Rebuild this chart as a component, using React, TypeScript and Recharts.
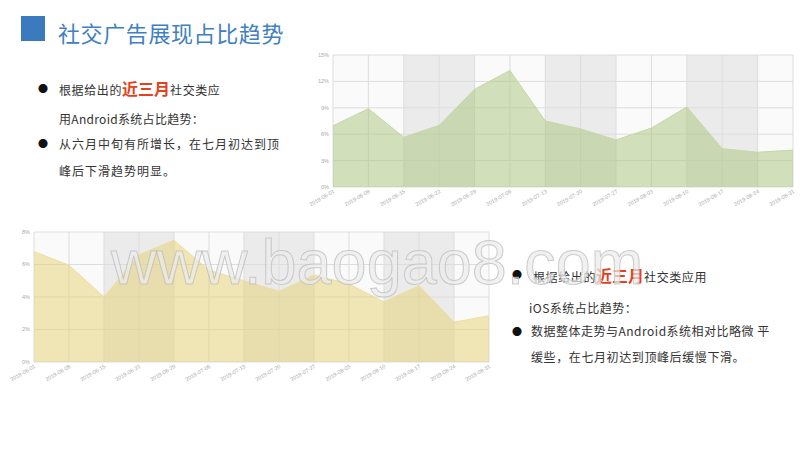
import { AreaChart, Area, XAxis, YAxis, CartesianGrid } from 'recharts';

// weekly share of social ads, in percent
const weeks = [
  '2019-06-01', '2019-06-08', '2019-06-15', '2019-06-22', '2019-06-29', '2019-07-06', '2019-07-13',
  '2019-07-20', '2019-07-27', '2019-08-03', '2019-08-10', '2019-08-17', '2019-08-24', '2019-08-31',
];
const androidShare = [6.95, 8.9, 5.65, 7.0, 11.1, 13.25, 7.5, 6.6, 5.35, 6.7, 9.1, 4.35, 3.95, 4.2];
const iosShare = [6.8, 5.95, 4.0, 6.6, 7.5, 5.65, 5.0, 4.35, 5.35, 4.8, 3.7, 4.7, 2.45, 2.85];
const androidTicks = [0, 3, 6, 9, 12, 15];
const iosTicks = [0, 2, 4, 6, 8];

const androidData = weeks.map((week, i) => ({ week, value: androidShare[i] }));
const iosData = weeks.map((week, i) => ({ week, value: iosShare[i] }));

const CJK = '"Noto Sans CJK SC", "Noto Sans", sans-serif';
const STRIPES = ['#fafafa', '#fafafa', '#ebebeb', '#ebebeb'];

const DateTick = (props: any) => {
  const { x, y, payload } = props;
  return (
    <text
      x={x}
      y={y}
      dy={4}
      transform={`rotate(-30, ${x}, ${y})`}
      textAnchor="end"
      fontSize={5.5}
      fill="#aaa"
      fontFamily="Liberation Sans, Arial, sans-serif"
    >
      {payload.value}
    </text>
  );
};

const pct = (v: number) => `${v}%`;

function ShareChart(props: {
  data: { week: string; value: number }[];
  ticks: number[];
  fill: string;
  stroke: string;
  margin: { top: number; right: number; bottom: number; left: number };
  yWidth: number;
}) {
  const { data, ticks, fill, stroke, margin, yWidth } = props;
  return (
    <AreaChart width={500} height={190} data={data} margin={margin}>
      <CartesianGrid stroke="#dddddd" verticalFill={STRIPES} />
      <XAxis
        dataKey="week"
        interval={0}
        axisLine={false}
        tickLine={false}
        tickSize={0}
        tickMargin={2}
        height={30}
        tick={<DateTick />}
      />
      <YAxis
        domain={[ticks[0], ticks[ticks.length - 1]]}
        ticks={ticks}
        width={yWidth}
        axisLine={false}
        tickLine={false}
        tickSize={0}
        tickMargin={4}
        tickFormatter={pct}
        tick={{ fontSize: 5.5, fill: '#aaa', fontFamily: 'Liberation Sans, Arial, sans-serif' }}
      />
      <Area
        type="linear"
        dataKey="value"
        fill={fill}
        fillOpacity={0.5}
        stroke={stroke}
        strokeWidth={1}
        dot={false}
        activeDot={false}
        isAnimationActive={false}
      />
    </AreaChart>
  );
}

const bullet = (left: number, top: number) => (
  <div style={{ position: 'absolute', left, top, fontSize: 10, lineHeight: '10px', color: '#111' }}>●</div>
);

const line = (left: number, top: number, text: React.ReactNode, spacing: number) => (
  <div
    style={{
      position: 'absolute',
      left,
      top,
      fontSize: 12,
      lineHeight: '16px',
      letterSpacing: spacing,
      whiteSpace: 'nowrap',
      color: '#333',
    }}
  >
    {text}
  </div>
);

const red = (
  <span style={{ color: '#e5401c', fontWeight: 'bold', fontSize: 16, letterSpacing: 0 }}>近三月</span>
);

export default function App() {
  return (
    <div
      style={{
        position: 'absolute',
        left: 0,
        top: 0,
        width: 800,
        height: 450,
        background: '#fff',
        fontFamily: CJK,
        overflow: 'hidden',
      }}
    >
      {/* title */}
      <div style={{ position: 'absolute', left: 21, top: 16, width: 24, height: 25, background: '#3a7abd' }} />
      <div
        style={{
          position: 'absolute',
          left: 58,
          top: 17,
          fontSize: 22,
          lineHeight: '30px',
          color: '#3f80c2',
          letterSpacing: 0.6,
          whiteSpace: 'nowrap',
        }}
      >
        社交广告展现占比趋势
      </div>

      {/* left text */}
      {bullet(38, 84)}
      {line(59, 80, <>根据给出的{red}社交类应</>, 0.6)}
      {line(59, 111, '用Android系统占比趋势：', 0.3)}
      {bullet(38, 139)}
      {line(59, 136, '从六月中旬有所增长，在七月初达到顶', 1)}
      {line(59, 163, '峰后下滑趋势明显。', 1)}

      {/* top chart: Android */}
      <div style={{ position: 'absolute', left: 300, top: 40 }}>
        <ShareChart
          data={androidData}
          ticks={androidTicks}
          fill="#a8c47a"
          stroke="#c6d8a6"
          margin={{ top: 15, right: 7, bottom: 13, left: 8 }}
          yWidth={25}
        />
      </div>

      {/* bottom chart: iOS */}
      <div style={{ position: 'absolute', left: 0, top: 220 }}>
        <ShareChart
          data={iosData}
          ticks={iosTicks}
          fill="#e6cf6e"
          stroke="#ecdfa2"
          margin={{ top: 12, right: 11, bottom: 18, left: 8 }}
          yWidth={26}
        />
      </div>

      {/* right text */}
      {bullet(512, 270)}
      {line(533, 267, <>根据给出的{red}社交类应用</>, 0.6)}
      {line(529, 300, 'iOS系统占比趋势：', 0.5)}
      {bullet(512, 327)}
      {line(531, 323, '数据整体走势与Android系统相对比略微  平', 0.5)}
      {line(531, 349, '缓些，在七月初达到顶峰后缓慢下滑。', 0.6)}

      {/* watermark */}
      <svg width={800} height={450} style={{ position: 'absolute', left: 0, top: 0, pointerEvents: 'none' }}>
        <text
          x={111}
          y={284}
          fontSize={63}
          fontFamily="Liberation Sans, Arial, sans-serif"
          fill="rgba(236,236,236,0.72)"
          stroke="rgba(185,185,185,0.7)"
          strokeWidth={1}
        >
          www.baogao8.com
        </text>
      </svg>
    </div>
  );
}
